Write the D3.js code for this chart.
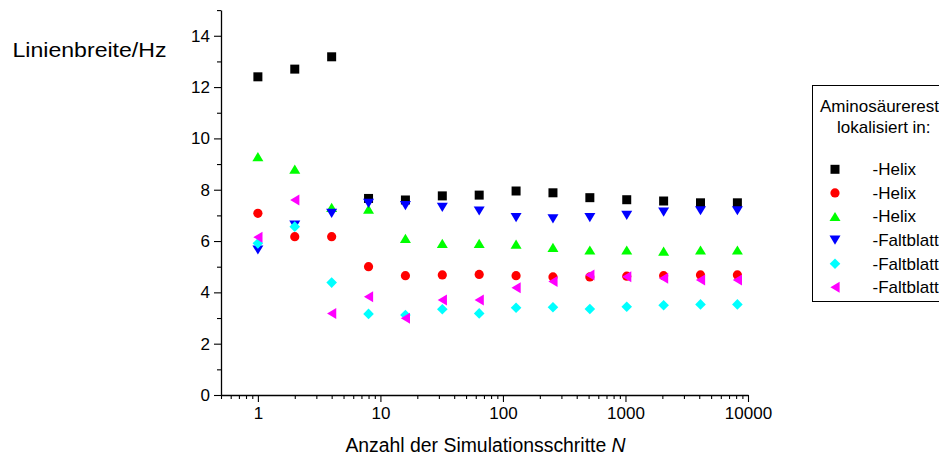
<!DOCTYPE html>
<html>
<head>
<meta charset="utf-8">
<script src="https://cdn.jsdelivr.net/npm/d3@7"></script>
<style>
  html, body { margin: 0; padding: 0; background: #fff; }
  svg { display: block; font-family: "Liberation Sans", Arial, sans-serif; }
</style>
</head>
<body>
<svg id="chart" width="939" height="457"></svg>
<script>
// Number of simulation steps (log axis)
const steps = [1, 2, 4, 8, 16, 32, 64, 128, 256, 512, 1024, 2048, 4096, 8192];

// Line widths in Hz for each residue group
const helixA   = [12.40, 12.70, 13.18, 7.66, 7.60, 7.76, 7.79, 7.95, 7.88, 7.69, 7.61, 7.56, 7.49, 7.49];
const helixB   = [7.08, 6.17, 6.17, 5.00, 4.65, 4.68, 4.70, 4.65, 4.60, 4.60, 4.63, 4.65, 4.68, 4.68];
const helixC   = [9.29, 8.80, 7.31, 7.24, 6.10, 5.91, 5.91, 5.88, 5.75, 5.65, 5.65, 5.61, 5.65, 5.65];
const sheetA   = [5.65, 6.62, 7.08, 7.47, 7.38, 7.31, 7.17, 6.91, 6.86, 6.91, 7.00, 7.13, 7.18, 7.18];
const sheetB   = [5.91, 6.56, 4.38, 3.16, 3.12, 3.34, 3.18, 3.40, 3.42, 3.35, 3.44, 3.50, 3.53, 3.53];
const sheetC   = [6.15, 7.60, 3.18, 3.83, 2.99, 3.70, 3.70, 4.18, 4.42, 4.68, 4.61, 4.55, 4.48, 4.48];

const seriesLabels = ["-Helix", "-Helix", "-Helix", "-Faltblatt", "-Faltblatt", "-Faltblatt"];
const seriesColors = ["#000000", "#ff0000", "#00ff00", "#0000ff", "#00ffff", "#ff00ff"];
const seriesShapes = ["square", "circle", "up", "down", "diamond", "left"];

const xTickValues = [1, 10, 100, 1000, 10000];
const yTickValues = [0, 2, 4, 6, 8, 10, 12, 14];

const legendTitle = ["Aminosäurerest", "lokalisiert in:"];
const xTitle = "Anzahl der Simulationsschritte ";
const xTitleVar = "N";
const yTitle = "Linienbreite/Hz";

const series = [helixA, helixB, helixC, sheetA, sheetB, sheetC].map((vals, i) => ({
  label: seriesLabels[i],
  color: seriesColors[i],
  shape: seriesShapes[i],
  points: vals.map((v, j) => ({ n: steps[j], v }))
}));

// ---- marker shapes -------------------------------------------------------
const shapeTypes = {
  square: { draw(c) { const s = 4.5; c.rect(-s, -s, 2 * s, 2 * s); } },
  circle: { draw(c) { c.moveTo(4.6, 0); c.arc(0, 0, 4.6, 0, 2 * Math.PI); } },
  up:     { draw(c) { const w = 5.5, h = 4.6; c.moveTo(0, -h); c.lineTo(w, h); c.lineTo(-w, h); c.closePath(); } },
  down:   { draw(c) { const w = 5.5, h = 4.6; c.moveTo(0, h); c.lineTo(w, -h); c.lineTo(-w, -h); c.closePath(); } },
  diamond:{ draw(c) { const r = 5.3; c.moveTo(0, -r); c.lineTo(r, 0); c.lineTo(0, r); c.lineTo(-r, 0); c.closePath(); } },
  left:   { draw(c) { const w = 5.5, h = 4.6; c.moveTo(-h, 0); c.lineTo(h, -w); c.lineTo(h, w); c.closePath(); } }
};
const symbolFor = name => d3.symbol().type(shapeTypes[name])();

// ---- scales ----------------------------------------------------------------
const svg = d3.select("#chart");
const x = d3.scaleLog().domain([0.5, 10000]).range([221, 748]);
const y = d3.scaleLinear().domain([0, 15]).range([395, 10.1]);

// minor ticks
const xMinor = [];
for (let e = -1; e <= 3; e++) {
  for (let k = 1; k <= 9; k++) {
    const v = k * Math.pow(10, e);
    if (v >= 0.5 && v <= 10000 && k !== 1) xMinor.push(v);
  }
}
const yMinor = d3.range(1, 16, 2);

const axisColor = "#000";

// x axis
const gx = svg.append("g").attr("transform", "translate(0,395)");
gx.call(d3.axisBottom(x).tickValues(xMinor).tickSize(4).tickFormat(""));
gx.call(g => g.select(".domain").remove());
const gxMajor = svg.append("g").attr("transform", "translate(0,395)")
  .call(d3.axisBottom(x).tickValues(xTickValues).tickSize(7).tickPadding(5)
    .tickFormat(d3.format("d")).tickSizeOuter(0));
gxMajor.select(".domain").attr("stroke-width", 1.3);

// y axis
const gy = svg.append("g").attr("transform", "translate(221,0)");
gy.call(d3.axisLeft(y).tickValues(yMinor).tickSize(4).tickFormat(""));
gy.call(g => g.select(".domain").remove());
const gyMajor = svg.append("g").attr("transform", "translate(221,0)")
  .call(d3.axisLeft(y).tickValues(yTickValues).tickSize(7).tickPadding(4).tickSizeOuter(0));
gyMajor.select(".domain").attr("stroke-width", 1.3);

svg.selectAll(".tick line").attr("stroke", axisColor).attr("stroke-width", 1.1);
svg.selectAll(".tick text")
  .attr("fill", "#000")
  .style("font-family", "'Liberation Sans', Arial, sans-serif")
  .style("font-size", "17px");

// axis titles
svg.append("text")
  .attr("x", 12.5).attr("y", 56.5)
  .attr("textLength", 154).attr("lengthAdjust", "spacingAndGlyphs")
  .style("font-size", "21px").attr("fill", "#000")
  .text(yTitle);

const xt = svg.append("text")
  .attr("x", 485.5).attr("y", 451.5)
  .attr("text-anchor", "middle")
  .style("font-size", "19.4px").attr("fill", "#000");
xt.append("tspan").text(xTitle);
xt.append("tspan").style("font-style", "italic").text(xTitleVar);

// ---- data markers ------------------------------------------------------------
series.forEach(s => {
  svg.append("g")
    .selectAll("path")
    .data(s.points)
    .join("path")
    .attr("d", symbolFor(s.shape))
    .attr("transform", d => `translate(${x(d.n)},${y(d.v)})`)
    .attr("fill", s.color);
});

// ---- legend --------------------------------------------------------------------
const lg = svg.append("g");
lg.append("rect")
  .attr("x", 812.5).attr("y", 85.5)
  .attr("width", 160).attr("height", 216)
  .attr("fill", "#fff").attr("stroke", "#000").attr("stroke-width", 1);

lg.append("text").attr("x", 820).attr("y", 111.5)
  .style("font-size", "17px").attr("fill", "#000").text(legendTitle[0]);
lg.append("text").attr("x", 837).attr("y", 133)
  .style("font-size", "17px").attr("fill", "#000").text(legendTitle[1]);

const rowY = d3.scaleLinear().domain([0, 5]).range([169.3, 287.3]);
series.forEach((s, i) => {
  lg.append("path")
    .attr("d", symbolFor(s.shape))
    .attr("transform", `translate(835,${rowY(i)})`)
    .attr("fill", s.color);
  lg.append("text")
    .attr("x", 872.5).attr("y", rowY(i) + 5.8)
    .style("font-size", "17px").attr("fill", "#000")
    .text(s.label);
});
</script>
</body>
</html>
